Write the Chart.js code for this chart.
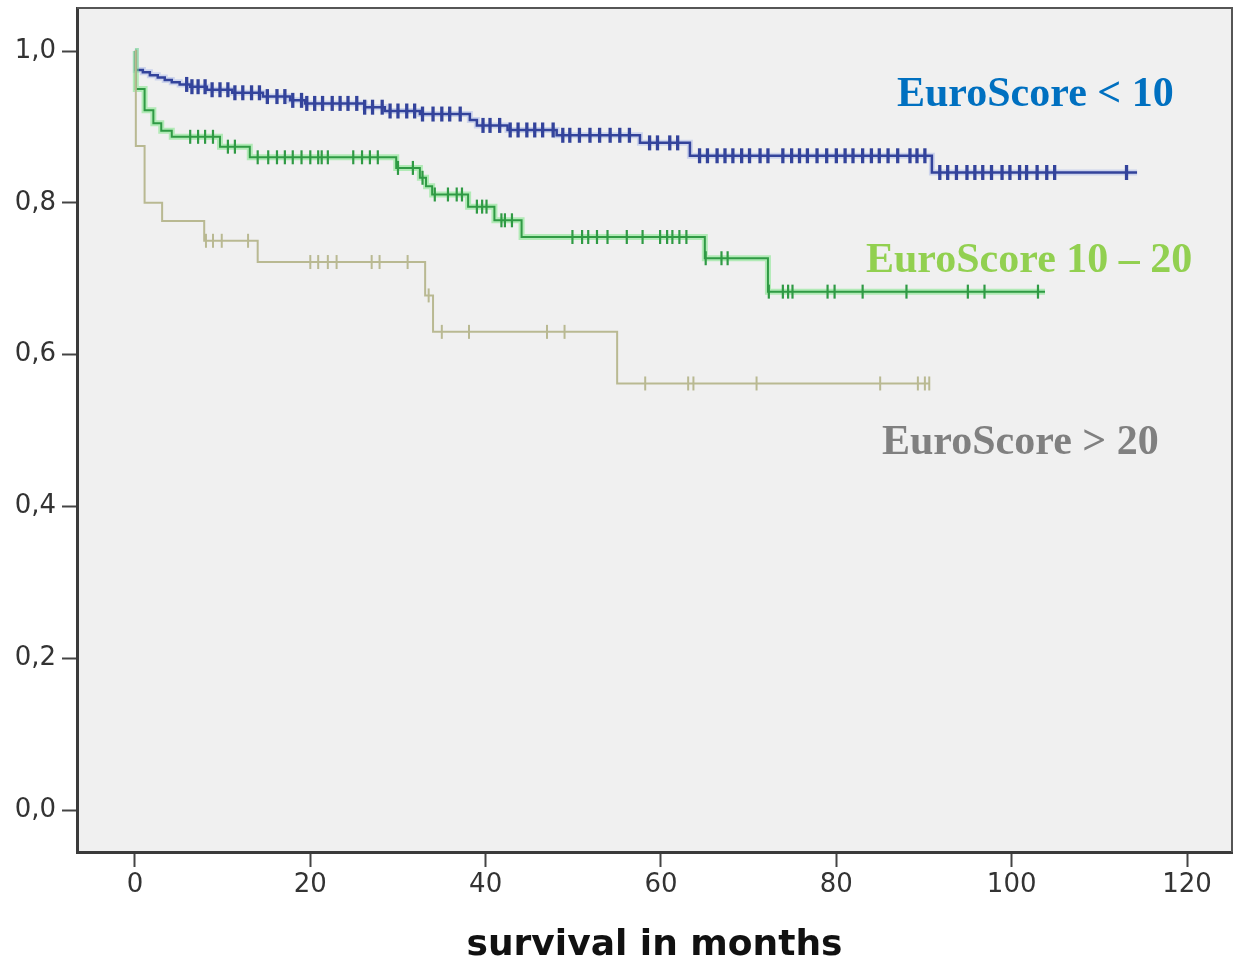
<!DOCTYPE html>
<html><head><meta charset="utf-8">
<script src="https://cdn.jsdelivr.net/npm/chart.js@4.4.1/dist/chart.umd.min.js"></script>
<style>html,body{margin:0;padding:0;background:#fff;}canvas{display:block;}</style>
</head><body>
<canvas id="c" width="1235" height="961"></canvas>
<script>
// ---------- data ----------
const seriesNames = ['EuroScore < 10', 'EuroScore 10 – 20', 'EuroScore > 20'];
const xTickValues = [0, 20, 40, 60, 80, 100, 120];
const yTickValues = [0, 0.2, 0.4, 0.6, 0.8, 1.0];
const yTickLabels = ['0,0', '0,2', '0,4', '0,6', '0,8', '1,0'];
const xTitle = 'survival in months';

// Kaplan-Meier steps: time (months) and survival after the step
const blueTimes = [0, 0.1, 0.9, 1.7, 2.6, 3.4, 4.2, 5.1, 6.3, 8.2, 11.1, 14.6, 17.7, 19.4, 26.2, 28.5, 32.5, 38.2, 39.0, 42.5, 48.1, 57.6, 63.3, 90.9, 114.3];
const blueSurv  = [1.0, 0.975, 0.972, 0.968, 0.965, 0.962, 0.959, 0.956, 0.953, 0.949, 0.945, 0.940, 0.935, 0.931, 0.926, 0.921, 0.917, 0.909, 0.902, 0.896, 0.889, 0.879, 0.862, 0.840, 0.840];
const blueCensor = [5.9, 6.5, 7.2, 8.0, 8.8, 9.7, 10.6, 11.4, 12.3, 13.3, 14.2, 15.1, 16.2, 17.1, 18.0, 19.0, 19.6, 20.5, 21.4, 22.5, 23.4, 24.3, 25.3, 26.2, 27.1, 28.2, 29.1, 30.0, 31.0, 31.9, 32.8, 34.0, 35.0, 35.9, 37.1, 39.7, 40.5, 41.6, 42.8, 43.7, 44.7, 45.6, 46.5, 47.7, 48.8, 49.6, 50.7, 51.9, 53.0, 54.2, 55.3, 56.4, 58.7, 59.6, 61.0, 61.9, 64.4, 65.3, 66.4, 67.3, 68.2, 69.2, 70.1, 71.3, 72.2, 73.9, 74.9, 75.8, 76.7, 77.8, 78.9, 80.0, 81.0, 81.9, 83.0, 84.0, 84.9, 85.9, 87.0, 88.4, 89.2, 90.1, 91.8, 92.7, 93.7, 94.9, 95.8, 96.7, 97.7, 98.9, 99.8, 100.9, 101.7, 102.9, 104.0, 104.9, 113.1];

const greenTimes = [0, 0.1, 1.1, 2.1, 3.0, 4.2, 9.7, 13.1, 29.8, 32.5, 33.2, 33.9, 38.0, 41.0, 44.1, 65.0, 72.2, 103.8];
const greenSurv  = [1.0, 0.950, 0.922, 0.905, 0.895, 0.887, 0.874, 0.860, 0.846, 0.833, 0.822, 0.811, 0.795, 0.777, 0.755, 0.727, 0.683, 0.683];
const greenCensor = [6.3, 7.2, 8.0, 8.9, 10.6, 11.4, 14.0, 15.2, 16.2, 17.1, 18.0, 19.0, 20.0, 20.9, 21.3, 22.0, 24.9, 25.9, 26.8, 27.7, 30.0, 31.7, 32.8, 34.2, 35.7, 36.7, 37.3, 39.0, 39.6, 40.1, 41.8, 42.2, 43.0, 49.9, 51.0, 51.7, 52.7, 53.9, 56.1, 57.9, 59.9, 60.7, 61.3, 62.1, 62.9, 65.1, 66.9, 67.6, 72.3, 73.9, 74.5, 75.0, 79.0, 79.8, 83.0, 88.0, 95.0, 96.9, 103.0];

const grayTimes = [0, 0.1, 1.1, 3.1, 7.9, 14.0, 33.1, 34.0, 55.0, 90.6];
const graySurv  = [1.0, 0.875, 0.800, 0.776, 0.750, 0.722, 0.678, 0.630, 0.562, 0.562];
const grayCensor = [8.1, 8.9, 9.9, 12.9, 20.0, 20.9, 22.0, 23.0, 27.0, 27.9, 31.1, 33.5, 35.0, 38.1, 47.0, 49.0, 58.2, 63.1, 63.7, 70.9, 85.0, 89.3, 90.1, 90.6];

// ---------- helpers ----------
function survAt(ts, ss, t) { let s = ss[0]; for (let i = 0; i < ts.length; i++) { if (ts[i] <= t) s = ss[i]; } return s; }
const toPts = (ts, ss) => ts.map((t, i) => ({ x: t, y: ss[i] }));
const censorPts = (cs, ts, ss) => cs.map(t => ({ x: t, y: survAt(ts, ss, t) }));

const BLUE = '#33439b', BLUE_GLOW = 'rgba(140,160,230,0.35)', GREEN = '#2f9a44', GREEN_GLOW = 'rgba(125,230,135,0.55)', GRAY = '#b9b992';
const labelColors = ['#0070C0', '#92D050', '#808080'];
const labelPos = [[897, 106], [866, 272], [882, 454]];

function curve(ts, ss, color, width) {
  return { type: 'line', data: toPts(ts, ss), stepped: true, borderColor: color, borderWidth: width,
           pointRadius: 0, fill: false, showLine: true };
}
function censor(cs, ts, ss, color, r, w) {
  return { type: 'scatter', data: censorPts(cs, ts, ss), showLine: false, pointStyle: 'line', pointRotation: 90,
           pointRadius: r, borderColor: color, pointBorderColor: color, pointBorderWidth: w, borderWidth: w };
}

const framePlugin = {
  id: 'frame',
  beforeDraw(chart) {
    const { ctx, chartArea: a } = chart;
    ctx.save(); ctx.fillStyle = '#f0f0f0';
    ctx.fillRect(a.left, a.top, a.right - a.left, a.bottom - a.top); ctx.restore();
  },
  afterDraw(chart) {
    const { ctx, chartArea: a } = chart;
    ctx.save();
    ctx.strokeStyle = '#555'; ctx.lineWidth = 2;
    ctx.beginPath(); ctx.moveTo(a.left, a.top); ctx.lineTo(a.right, a.top); ctx.lineTo(a.right, a.bottom); ctx.stroke();
    ctx.font = 'bold 42px "Liberation Serif", "Times New Roman", serif';
    ctx.textAlign = 'left'; ctx.textBaseline = 'alphabetic';
    seriesNames.forEach((n, i) => { ctx.fillStyle = labelColors[i]; ctx.fillText(n, labelPos[i][0], labelPos[i][1]); });
    ctx.restore();
  }
};

const axisCommon = {
  type: 'linear',
  border: { display: true, color: '#3a3a3a', width: 3 },
  grid: { display: true, drawOnChartArea: false, drawTicks: true, tickLength: 15, tickWidth: 2, tickColor: '#444' },
};
const tickFont = { family: '"DejaVu Sans", Verdana, sans-serif', size: 26 };

new Chart(document.getElementById('c'), {
  type: 'scatter',
  data: {
    datasets: [
      curve(grayTimes, graySurv, GRAY, 2),
      censor(grayCensor, grayTimes, graySurv, GRAY, 7, 2),
      censor(greenCensor, greenTimes, greenSurv, GREEN, 7, 2.2),
      curve(greenTimes, greenSurv, GREEN, 2),
      curve(greenTimes, greenSurv, GREEN_GLOW, 6),
      censor(blueCensor, blueTimes, blueSurv, BLUE, 7.5, 3.3),
      curve(blueTimes, blueSurv, BLUE, 2.5),
      curve(blueTimes, blueSurv, BLUE_GLOW, 6),
    ]
  },
  options: {
    responsive: false, animation: false, devicePixelRatio: 1, events: [],
    layout: { autoPadding: false, padding: { top: 8, right: 3, left: 0, bottom: 0 } },
    plugins: { legend: { display: false }, tooltip: { enabled: false } },
    scales: {
      x: Object.assign({}, axisCommon, {
        position: 'bottom', min: -6.61, max: 125.13,
        afterBuildTicks: s => { s.ticks = xTickValues.map(v => ({ value: v })); },
        afterFit: s => { s.height = 109; s.paddingLeft = 0; s.paddingRight = 0; },
        ticks: { font: tickFont, color: '#333', padding: 3, maxRotation: 0, autoSkip: false,
                 callback: v => String(v) },
        title: { display: true, text: xTitle, color: '#111', padding: { top: 0, bottom: -3 },
                 font: { family: '"DejaVu Sans", Verdana, sans-serif', size: 36, weight: 'bold', lineHeight: 1 } }
      }),
      y: Object.assign({}, axisCommon, {
        position: 'left', min: -0.0553, max: 1.0567,
        afterBuildTicks: s => { s.ticks = yTickValues.map(v => ({ value: v })); },
        afterFit: s => { s.width = 77; s.paddingTop = 0; s.paddingBottom = 0; },
        ticks: { font: tickFont, color: '#333', padding: 6, autoSkip: false,
                 callback: v => { const i = yTickValues.findIndex(t => Math.abs(t - v) < 1e-9); return i >= 0 ? yTickLabels[i] : ''; } }
      })
    }
  },
  plugins: [framePlugin]
});
</script>
</body></html>
